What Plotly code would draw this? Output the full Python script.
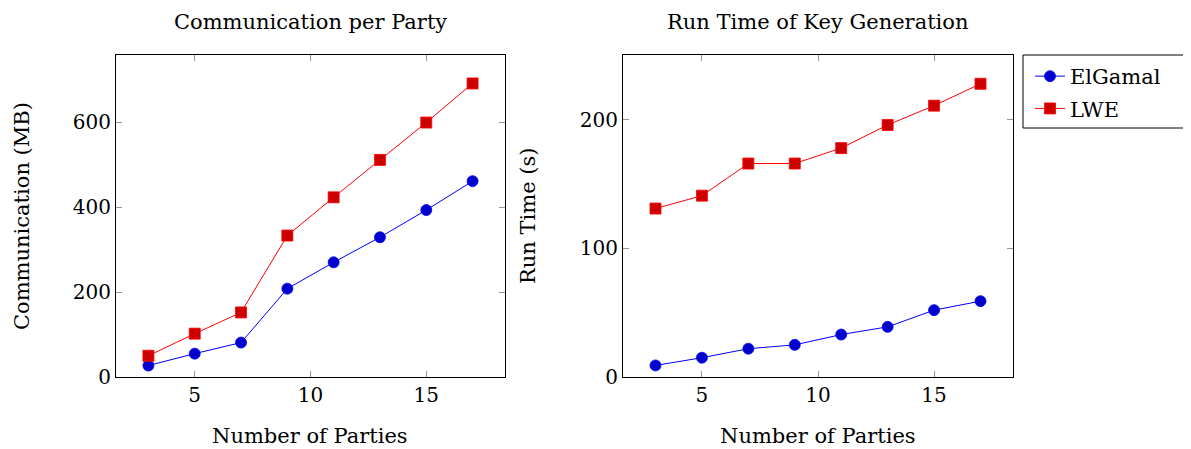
import plotly.graph_objects as go

parties = [3, 5, 7, 9, 11, 13, 15, 17]
comm_elgamal = [27, 55, 81, 208, 270, 329, 393, 461]
comm_lwe = [50, 102, 152, 333, 423, 511, 599, 691]
time_elgamal = [9, 15, 22, 25, 33, 39, 52, 59]
time_lwe = [131, 141, 166, 166, 178, 196, 211, 228]

titles = ["Communication per Party", "Run Time of Key Generation"]
xlabel = "Number of Parties"
ylabels = ["Communication (MB)", "Run Time (s)"]

FONT = "DejaVu Serif"
FS_TICK = 20
FS = 21
BLUE_LINE = "rgb(0,0,255)"
BLUE_FILL = "rgb(0,0,204)"
RED_LINE = "rgb(255,0,0)"
RED_FILL = "rgb(204,0,0)"

# page body offset of 8px: figure drawn at (8,8)
OFF = 8
W, H = 1191 - OFF, 449 - OFF

def PX(x):
    return (x - OFF) / W

def PY(y):
    return (H - (y - OFF)) / H

fig = go.Figure()

def add(x, y, name, line, fill, symbol, xa, ya, show):
    fig.add_trace(go.Scatter(
        x=x, y=y, name=name, mode="lines+markers", legendgroup=name,
        line=dict(color=line, width=1),
        marker=dict(symbol=symbol, size=11, color=fill, line=dict(color=line, width=0.8)),
        xaxis=xa, yaxis=ya, showlegend=show))

add(parties, comm_elgamal, "ElGamal", BLUE_LINE, BLUE_FILL, "circle", "x", "y", True)
add(parties, comm_lwe, "LWE", RED_LINE, RED_FILL, "square", "x", "y", True)
add(parties, time_elgamal, "ElGamal", BLUE_LINE, BLUE_FILL, "circle", "x2", "y2", False)
add(parties, time_lwe, "LWE", RED_LINE, RED_FILL, "square", "x2", "y2", False)

axcommon = dict(showline=True, mirror="ticks", linecolor="black", linewidth=1,
                ticks="inside", ticklen=6, tickcolor="rgb(150,150,150)", tickwidth=1,
                showgrid=False, zeroline=False, automargin=False,
                tickfont=dict(family=FONT, size=FS_TICK, color="black"))

fig.update_layout(
    width=W, height=H,
    margin=dict(l=0, r=0, t=0, b=0, autoexpand=False),
    plot_bgcolor="white", paper_bgcolor="white",
    font=dict(family=FONT, size=FS, color="black"),
    xaxis=dict(domain=[PX(116), PX(505)], range=[1.6, 18.4], tickvals=[5, 10, 15], anchor="y", **axcommon),
    yaxis=dict(domain=[PY(377), PY(55)], range=[0, 758], tickvals=[0, 200, 400, 600], anchor="x", **axcommon),
    xaxis2=dict(domain=[PX(623), PX(1013)], range=[1.6, 18.4], tickvals=[5, 10, 15], anchor="y2", **axcommon),
    yaxis2=dict(domain=[PY(377), PY(55)], range=[0, 250.4], tickvals=[0, 100, 200], anchor="x2", **axcommon),
    legend=dict(x=PX(1030), y=PY(56), xanchor="left", yanchor="top",
                borderwidth=0, bgcolor="rgba(0,0,0,0)",
                font=dict(family=FONT, size=FS), tracegroupgap=2),
)

fig.add_shape(type="rect", xref="paper", yref="paper",
              x0=PX(1023), x1=PX(1200), y0=PY(128), y1=PY(55),
              line=dict(color="black", width=1), fillcolor="rgba(0,0,0,0)")

def ann(text, px, py, angle=0):
    fig.add_annotation(text=text, x=PX(px), y=PY(py), xref="paper", yref="paper",
                       showarrow=False, font=dict(family=FONT, size=FS), xanchor="center",
                       yanchor="middle", textangle=angle)

ann(titles[0], 310, 22)
ann(titles[1], 818, 22)
ann(xlabel, 310, 436)
ann(xlabel, 818, 436)
ann(ylabels[0], 22, 216, -90)
ann(ylabels[1], 528, 216, -90)

fig.write_html("out.html")
